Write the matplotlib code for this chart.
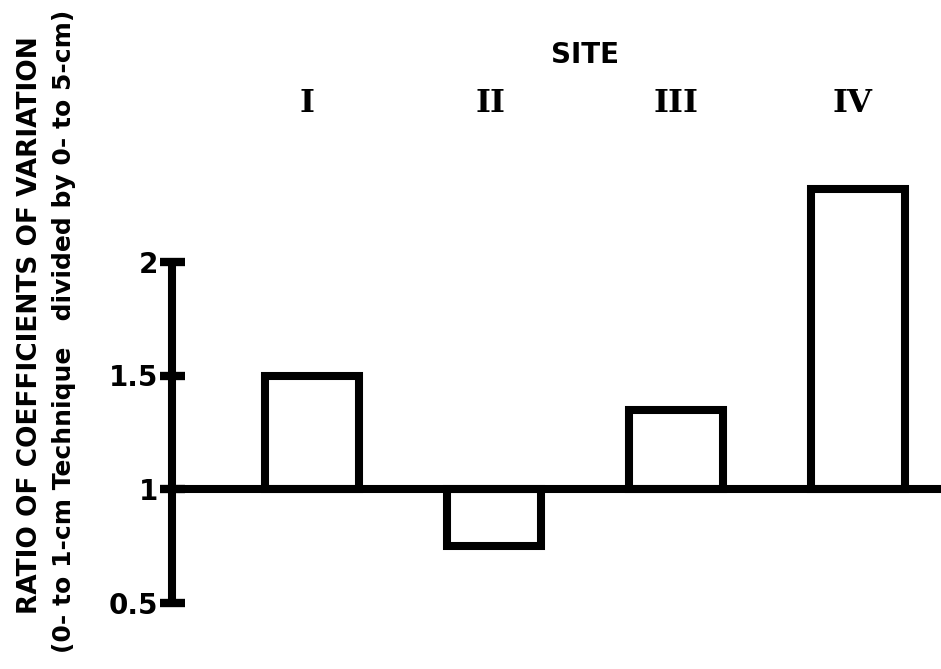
import matplotlib
matplotlib.use("Agg")
import matplotlib.pyplot as plt
import numpy as np

# data
sites = ["I", "II", "III", "IV"]
ratio = [1.5, 0.75, 1.35, 2.32]
yticks = [0.5, 1, 1.5, 2]
ytick_labels = ["0.5", "1", "1.5", "2"]

plt.rcParams['font.family'] = ['DejaVu Sans']

W, H = 941, 669
fig = plt.figure(figsize=(W / 100, H / 100), dpi=100)

# axes: left edge at the y axis line, fill to the right edge
ax_left = 172
ax = fig.add_axes([ax_left / W, 0, (W - ax_left) / W, 1])

# pixel -> data mapping (1 at y=489 px, 227 px per unit)
ppu = 227.0
ax.set_ylim(1 - (H - 489) / ppu, 1 + 489 / ppu)
step = 182.0
x0 = 312.0
ax.set_xlim(1 - (x0 - ax_left) / step, 1 + (W - x0) / step)

x = np.arange(1, len(sites) + 1)
heights = [r - 1 for r in ratio]
ax.bar(x, heights, bottom=1, width=0.52, fill=False, edgecolor='black',
       linewidth=5.8, joinstyle='miter', zorder=3)

# baseline at ratio = 1
ax.axhline(1, color='black', linewidth=5.8, zorder=4)

for s in ['top', 'right', 'bottom']:
    ax.spines[s].set_visible(False)
ax.spines['left'].set_bounds(0.5, 2)
ax.spines['left'].set_linewidth(5.8)
ax.spines['left'].set_capstyle('butt')

ax.set_xticks([])
ax.set_yticks(yticks)
ax.set_yticklabels(ytick_labels, fontsize=20, fontweight='bold')
ax.tick_params(axis='y', direction='inout', length=18, width=6, pad=1)

# site labels on top
offs = [-0.03, -0.02, 0.0, -0.03]
for xi, s, o in zip(x, sites, offs):
    ax.text(xi + o, 1 + (489 - 104) / ppu, s, ha='center', va='center',
            fontsize=23, fontweight='bold', family='DejaVu Serif')
ax.text(2.5, 1 + (489 - 55) / ppu, "SITE", ha='center', va='center',
        fontsize=20, fontweight='bold')

# y label, two lines
fig.text(30 / W, 1 - 325 / H, "RATIO OF COEFFICIENTS OF VARIATION",
         rotation=90, ha='center', va='center', fontsize=19, fontweight='bold')
fig.text(64 / W, 1 - 331 / H, "(0- to 1-cm Technique   divided by 0- to 5-cm)",
         rotation=90, ha='center', va='center', fontsize=18, fontweight='bold')

plt.savefig("out.png", dpi=100)
